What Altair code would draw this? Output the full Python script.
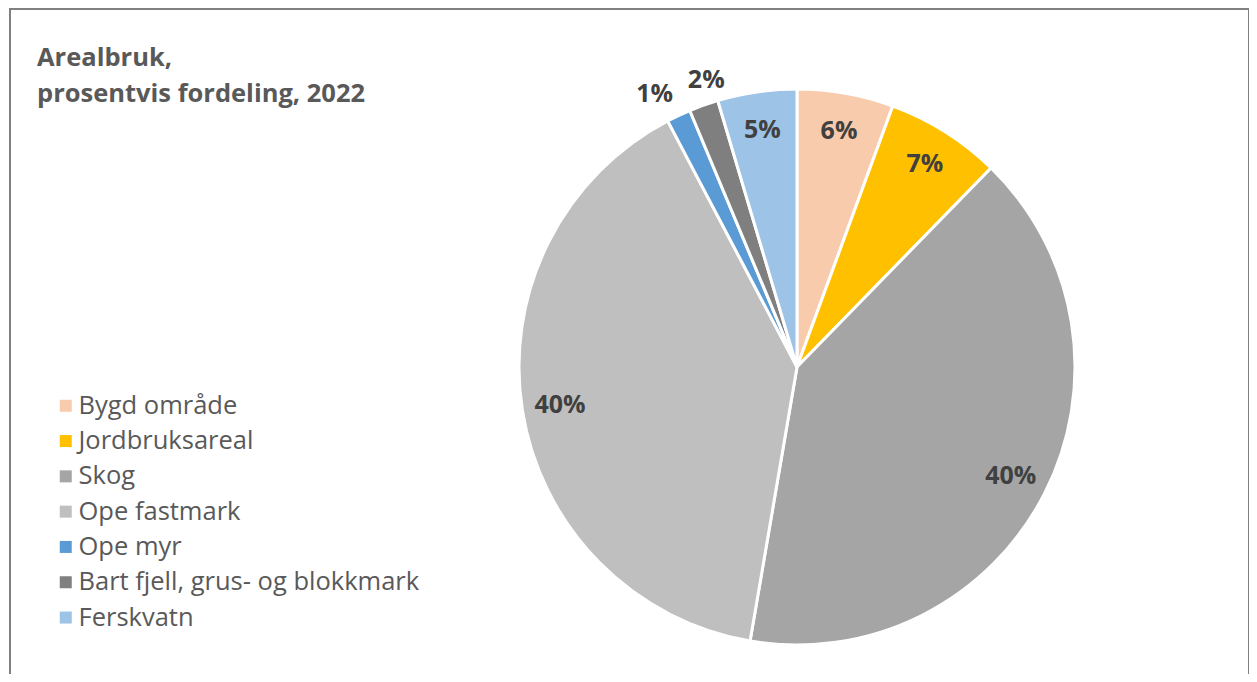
import altair as alt
import pandas as pd

categories = ["Bygd område", "Jordbruksareal", "Skog", "Ope fastmark", "Ope myr",
              "Bart fjell, grus- og blokkmark", "Ferskvatn"]
shares = [5.6, 6.7, 40.4, 39.6, 1.4, 1.7, 4.6]
labels = ["6%", "7%", "40%", "40%", "1%", "2%", "5%"]
colors = ["#F8CBAD", "#FFC000", "#A5A5A5", "#BFBFBF", "#5B9BD5", "#7F7F7F", "#9DC3E6"]
title_lines = ["Arealbruk,", "prosentvis fordeling, 2022"]

df = pd.DataFrame({"kat": categories, "v": shares, "lab": labels, "i": list(range(len(categories)))})

FONT = "Open Sans"
CX, CY, R = 788, 358, 278
W, H = 1241, 666

base = alt.Chart(df).encode(
    theta=alt.Theta("v:Q", stack=True),
    order=alt.Order("i:O"),
)

pie = base.mark_arc(radius=R, stroke="white", strokeWidth=3).encode(
    x=alt.value(CX), y=alt.value(CY),
    color=alt.Color("kat:N", sort=categories,
                    scale=alt.Scale(domain=categories, range=colors),
                    legend=alt.Legend(title=None, orient="none", legendX=44, legendY=384,
                                      symbolType="square", symbolSize=144,
                                      symbolStrokeWidth=0,
                                      labelFont=FONT, labelFontSize=25.5, labelColor="#595959",
                                      rowPadding=8.3, labelOffset=0, labelLimit=600)),
)

label_style = dict(font=FONT, fontSize=25, fontWeight="bold", color="#404040")

inner = base.mark_text(radius=240, **label_style).encode(
    x=alt.value(CX), y=alt.value(CY),
    text=alt.condition("datum.v >= 3", alt.Text("lab:N"), alt.value("")),
)
outer_myr = base.mark_text(radius=306, dx=-12, dy=4, **label_style).encode(
    x=alt.value(CX), y=alt.value(CY),
    text=alt.condition("datum.i == 4", alt.Text("lab:N"), alt.value("")),
)
outer_fjell = base.mark_text(radius=306, dx=12, dy=1, **label_style).encode(
    x=alt.value(CX), y=alt.value(CY),
    text=alt.condition("datum.i == 5", alt.Text("lab:N"), alt.value("")),
)

one = alt.Data(values=[{"a": 1}])


def title_line(txt, ypos):
    return alt.Chart(one).mark_text(align="left", baseline="alphabetic", font=FONT,
                                    fontSize=25.5, fontWeight="bold", color="#595959",
                                    text=txt).encode(x=alt.value(28), y=alt.value(ypos))


t1 = title_line(title_lines[0], 57)
t2 = title_line(title_lines[1], 93)

left = alt.Chart(one).mark_rule(color="#808080", strokeWidth=2).encode(
    x=alt.value(1), y=alt.value(0), y2=alt.value(H))
top = alt.Chart(one).mark_rule(color="#808080", strokeWidth=2).encode(
    x=alt.value(0), x2=alt.value(W), y=alt.value(0))
right = alt.Chart(one).mark_rule(color="#808080", strokeWidth=2).encode(
    x=alt.value(W - 1), y=alt.value(0), y2=alt.value(H))

chart = alt.layer(pie, inner, outer_myr, outer_fjell, t1, t2, left, top, right).properties(
    width=W, height=H, padding=0,
    autosize=alt.AutoSizeParams(type="fit", contains="padding"),
).configure_view(stroke=None)

chart.save("out.html", embed_options={"renderer": "svg", "actions": False})
